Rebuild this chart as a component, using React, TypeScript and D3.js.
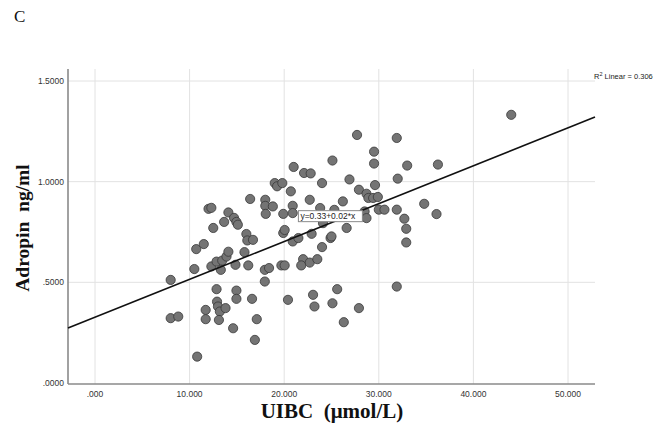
import React, { useEffect, useRef } from 'react';
import * as d3 from 'd3';

// UIBC (µmol/L) values
const uibc = [
  8.0, 8.0, 8.8, 10.5, 10.7, 11.5, 10.8, 11.7, 11.7, 12.0,
  12.3, 12.5, 12.3, 12.85, 13.3, 13.45, 13.9, 14.1, 12.85, 12.9,
  13.0, 13.2, 13.8, 13.1, 13.65, 14.1, 14.7, 14.95, 15.1, 14.85,
  14.95, 14.95, 14.6, 15.8, 16.0, 16.1, 16.7, 16.2, 16.4, 16.6,
  16.9, 17.1, 17.95, 18.4, 17.95, 18.0, 18.0, 18.8, 18.05, 19.0,
  19.25, 19.8, 19.9, 19.7, 20.05, 19.9, 20.05, 20.4, 20.7, 21.0,
  20.9, 20.9, 20.9, 21.5, 22.1, 22.8, 22.7, 22.0, 21.8, 22.7,
  23.5, 22.9, 23.05, 23.2, 23.8, 24.0, 24.1, 24.0, 24.9, 25.0,
  25.1, 25.3, 25.6, 25.1, 26.2, 26.6, 26.3, 26.9, 27.7, 27.9,
  27.9, 28.5, 28.7, 28.7, 28.9, 29.4, 29.5, 29.5, 29.6, 29.9,
  30.0, 30.6, 31.9, 32.0, 31.9, 31.9, 32.7, 32.9, 32.9, 33.0,
  34.8, 36.1, 36.25, 44.0,
];

// Adropin (ng/ml) values, same order
const adropin = [
  0.512, 0.322, 0.33, 0.566, 0.665, 0.69, 0.131, 0.363, 0.317, 0.865,
  0.87, 0.77, 0.579, 0.603, 0.562, 0.608, 0.628, 0.652, 0.466, 0.404,
  0.38, 0.355, 0.372, 0.313, 0.8, 0.847, 0.82, 0.8, 0.786, 0.587,
  0.459, 0.418, 0.272, 0.65, 0.74, 0.708, 0.711, 0.584, 0.914, 0.418,
  0.214, 0.317, 0.562, 0.571, 0.504, 0.91, 0.88, 0.877, 0.84, 0.993,
  0.977, 0.993, 0.84, 0.584, 0.584, 0.745, 0.76, 0.413, 0.952, 1.073,
  0.88, 0.844, 0.703, 0.72, 1.043, 1.041, 0.91, 0.615, 0.584, 0.598,
  0.615, 0.741, 0.438, 0.38, 0.869, 0.993, 0.794, 0.675, 0.72, 0.728,
  1.105, 0.86, 0.466, 0.396, 0.902, 0.77, 0.302, 1.011, 1.232, 0.96,
  0.372, 0.852, 0.819, 0.94, 0.919, 0.919, 1.149, 1.09, 0.983, 0.924,
  0.861, 0.861, 1.217, 1.015, 0.861, 0.479, 0.816, 0.766, 0.698, 1.08,
  0.89, 0.839, 1.085, 1.332,
];

const xTicks = [0, 10, 20, 30, 40, 50];
const xTickLabels = ['.000', '10.000', '20.000', '30.000', '40.000', '50.000'];
const yTicks = [0, 0.5, 1.0, 1.5];
const yTickLabels = ['.0000', '.5000', '1.0000', '1.5000'];

// fit line as printed on the chart
const fitIntercept = 0.327;
const fitSlope = 0.0188;
const fitLabel = 'y=0.33+0.02*x';
const r2Text = '0.306';

const App = () => {
  const ref = useRef<SVGSVGElement>(null);

  useEffect(() => {
    const W = 662;
    const H = 434;
    const left = 68, right = 595, top = 69, bottom = 384;

    const svg = d3.select(ref.current);
    svg.selectAll('*').remove();

    const x = d3.scaleLinear().domain([0, 50]).range([95, 568]);
    const y = d3.scaleLinear().domain([0, 1.5]).range([383, 81]);

    svg.append('rect').attr('width', W).attr('height', H).attr('fill', '#fff');

    // panel letter
    svg.append('text')
      .attr('x', 14).attr('y', 22)
      .attr('font-family', '"Liberation Serif", serif')
      .attr('font-size', 17)
      .attr('fill', '#111')
      .text('C');

    // grid
    const grid = svg.append('g').attr('stroke', '#e2e2e2').attr('stroke-width', 1);
    grid.selectAll('line.v')
      .data(xTicks)
      .enter()
      .append('line')
      .attr('x1', (d) => x(d)).attr('x2', (d) => x(d))
      .attr('y1', top).attr('y2', bottom);
    grid.selectAll('line.h')
      .data(yTicks.filter((d) => d > 0))
      .enter()
      .append('line')
      .attr('x1', left).attr('x2', right)
      .attr('y1', (d) => y(d)).attr('y2', (d) => y(d));

    // axis lines
    svg.append('line')
      .attr('x1', left).attr('x2', left).attr('y1', top).attr('y2', bottom)
      .attr('stroke', '#8a8a8a').attr('stroke-width', 1.6);
    svg.append('line')
      .attr('x1', left).attr('x2', right).attr('y1', bottom).attr('y2', bottom)
      .attr('stroke', '#8a8a8a').attr('stroke-width', 1.6);

    // tick labels
    svg.append('g')
      .selectAll('text')
      .data(yTicks)
      .enter()
      .append('text')
      .attr('x', 64)
      .attr('y', (d) => y(d) + 3)
      .attr('text-anchor', 'end')
      .attr('font-family', '"Liberation Sans", Arial, sans-serif')
      .attr('font-size', 8.5)
      .attr('fill', '#333')
      .text((d, i) => yTickLabels[i]);

    svg.append('g')
      .selectAll('text')
      .data(xTicks)
      .enter()
      .append('text')
      .attr('x', (d) => x(d))
      .attr('y', 397)
      .attr('text-anchor', 'middle')
      .attr('font-family', '"Liberation Sans", Arial, sans-serif')
      .attr('font-size', 8.5)
      .attr('fill', '#333')
      .text((d, i) => xTickLabels[i]);

    // points
    svg.append('g')
      .selectAll('circle')
      .data(uibc.map((v, i) => [v, adropin[i]]))
      .enter()
      .append('circle')
      .attr('cx', (d) => x(d[0]))
      .attr('cy', (d) => y(d[1]))
      .attr('r', 4.6)
      .attr('fill', '#747474')
      .attr('stroke', '#383838')
      .attr('stroke-width', 0.8);

    // fit line across the whole x axis
    const x0 = x.invert(left);
    const x1 = x.invert(right);
    svg.append('line')
      .attr('x1', left).attr('y1', y(fitIntercept + fitSlope * x0))
      .attr('x2', right).attr('y2', y(fitIntercept + fitSlope * x1))
      .attr('stroke', '#111').attr('stroke-width', 1.6);

    // equation box
    const bx = x(21.5);
    const by = y(0.856);
    svg.append('rect')
      .attr('x', bx).attr('y', by).attr('width', 64).attr('height', 11)
      .attr('fill', '#fff').attr('stroke', '#8a8a8a').attr('stroke-width', 1);
    svg.append('text')
      .attr('x', bx + 2).attr('y', by + 8.5)
      .attr('font-family', '"Liberation Sans", Arial, sans-serif')
      .attr('font-size', 8.5)
      .attr('fill', '#222')
      .text(fitLabel);

    // R² note
    const r2 = svg.append('text')
      .attr('x', 594).attr('y', 79)
      .attr('font-family', '"Liberation Sans", Arial, sans-serif')
      .attr('font-size', 7.5)
      .attr('fill', '#222');
    r2.append('tspan').text('R');
    r2.append('tspan').attr('dy', -3).attr('font-size', 5.5).text('2');
    r2.append('tspan').attr('dy', 3).text(` Linear = ${r2Text}`);

    // axis titles
    svg.append('text')
      .attr('x', 332).attr('y', 418)
      .attr('text-anchor', 'middle')
      .attr('font-family', '"Liberation Serif", serif')
      .attr('font-weight', 'bold')
      .attr('font-size', 21)
      .attr('fill', '#111')
      .style('white-space', 'pre')
      .text('UIBC  (μmol/L)');

    svg.append('text')
      .attr('transform', 'translate(29,228) rotate(-90)')
      .attr('text-anchor', 'middle')
      .attr('font-family', '"Liberation Serif", serif')
      .attr('font-weight', 'bold')
      .attr('font-size', 19.5)
      .attr('fill', '#111')
      .style('white-space', 'pre')
      .text('Adropin  ng/ml');
  }, []);

  return (
    <div style={{ position: 'absolute', left: 0, top: 0 }}>
      <svg ref={ref} width={662} height={434} style={{ display: 'block' }}></svg>
    </div>
  );
};

export default App;
